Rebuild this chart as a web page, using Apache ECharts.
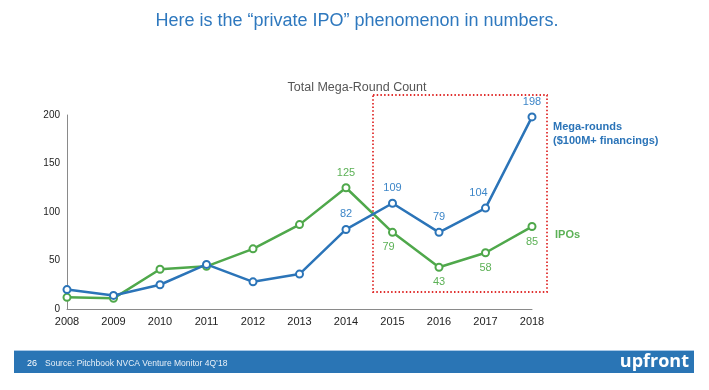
<!DOCTYPE html>
<html><head><meta charset="utf-8">
<script src="https://cdn.jsdelivr.net/npm/echarts@6/dist/echarts.min.js"></script>
<style>html,body{margin:0;padding:0;background:#fff}#c{width:709px;height:390px}</style>
</head><body><div id="c"></div>
<script>
const years = ['2008','2009','2010','2011','2012','2013','2014','2015','2016','2017','2018'];
const megaRounds = [20, 14, 25, 46, 28, 36, 82, 109, 79, 104, 198];
const ipos = [12, 11, 41, 44, 62, 87, 125, 79, 43, 58, 85];
const megaLabeled = [false,false,false,false,false,false,true,true,true,true,true];
const ipoLabeled = [false,false,false,false,false,false,true,true,true,true,true];
const ipoLabelBelow = [false,false,false,false,false,false,false,true,true,true,true];
const yTicks = [0, 50, 100, 150, 200];

const BLUE = '#2b74b8', GREEN = '#4fa84b', BLUE_L = '#3d86c8', GREEN_L = '#5cb156';
const FONT = '"Liberation Sans", Arial, sans-serif';

const chart = echarts.init(document.getElementById('c'));
chart.setOption({
  backgroundColor: '#ffffff',
  animation: false,
  title: [
    {text: 'Here is the \u201cprivate IPO\u201d phenomenon in numbers.', left: 352, textAlign: 'center', top: 7,
     textStyle: {color: '#2e78be', fontSize: 18, fontWeight: 'normal', fontFamily: FONT}},
    {text: 'Total Mega-Round Count', left: 352, textAlign: 'center', top: 76,
     textStyle: {color: '#555', fontSize: 12.5, fontWeight: 'normal', fontFamily: FONT}}
  ],
  grid: {left: 67, right: 177, top: 115, bottom: 81},
  xAxis: {type: 'category', data: years, boundaryGap: false,
    axisLine: {lineStyle: {color: '#8a8a8a', width: 1}}, axisTick: {show: false},
    axisLabel: {color: '#222', fontSize: 11, fontFamily: FONT, margin: 7}},
  yAxis: {type: 'value', min: yTicks[0], max: yTicks[yTicks.length-1], interval: 50,
    axisLine: {show: true, lineStyle: {color: '#8a8a8a', width: 1}}, axisTick: {show: false},
    splitLine: {show: false},
    axisLabel: {color: '#222', fontSize: 10, fontFamily: FONT, margin: 7}},
  series: [
    {name: 'Mega-rounds', type: 'line', data: megaRounds.map((v,i)=>({value: v,
        label: {show: megaLabeled[i], position: 'top', offset: i === 9 ? [-7, 0] : [0, 0]}})),
     symbol: 'circle', symbolSize: 7, z: 3,
     lineStyle: {color: BLUE, width: 2.5},
     itemStyle: {color: '#fff', borderColor: BLUE, borderWidth: 2},
     label: {color: BLUE_L, fontSize: 11, fontFamily: FONT, distance: 5}},
    {name: 'IPOs', type: 'line', data: ipos.map((v,i)=>({value: v,
        label: {show: ipoLabeled[i], position: ipoLabelBelow[i] ? 'bottom' : 'top',
                offset: i === 7 ? [-4, 0] : [0, 0]}})),
     symbol: 'circle', symbolSize: 7, z: 2,
     lineStyle: {color: GREEN, width: 2.5},
     itemStyle: {color: '#fff', borderColor: GREEN, borderWidth: 2},
     label: {color: GREEN_L, fontSize: 11, fontFamily: FONT, distance: 5}}
  ],
  graphic: [
    {type: 'rect', shape: {x: 373, y: 95, width: 174, height: 197}, z: 1,
     style: {fill: 'none', stroke: '#e0302f', lineWidth: 1.8, lineDash: [1.5, 2.2]}},
    {type: 'text', left: 553, top: 120, z: 5,
     style: {text: 'Mega-rounds\n($100M+ financings)', fill: BLUE, font: 'bold 11px ' + FONT, lineHeight: 14}},
    {type: 'text', left: 555, top: 229, z: 5,
     style: {text: 'IPOs', fill: GREEN_L, font: 'bold 11px ' + FONT}},
    {type: 'rect', shape: {x: 14, y: 350, width: 680, height: 1}, style: {fill: '#a9c8e6'}},
    {type: 'rect', shape: {x: 14, y: 351, width: 680, height: 22}, style: {fill: '#2a75b5'}},
    {type: 'text', left: 27, top: 359, z: 5,
     style: {text: '26', fill: '#fff', font: '9px ' + FONT}},
    {type: 'text', left: 45, top: 359, z: 5,
     style: {text: 'Source: Pitchbook NVCA Venture Monitor 4Q\u201918', fill: '#e8f0f8', font: '8.5px ' + FONT}},
    {type: 'text', right: 20, top: 353, z: 5,
     style: {text: 'upfront', fill: '#fff', font: 'bold 18px "Open Sans", ' + FONT}}
  ]
});
</script></body></html>
